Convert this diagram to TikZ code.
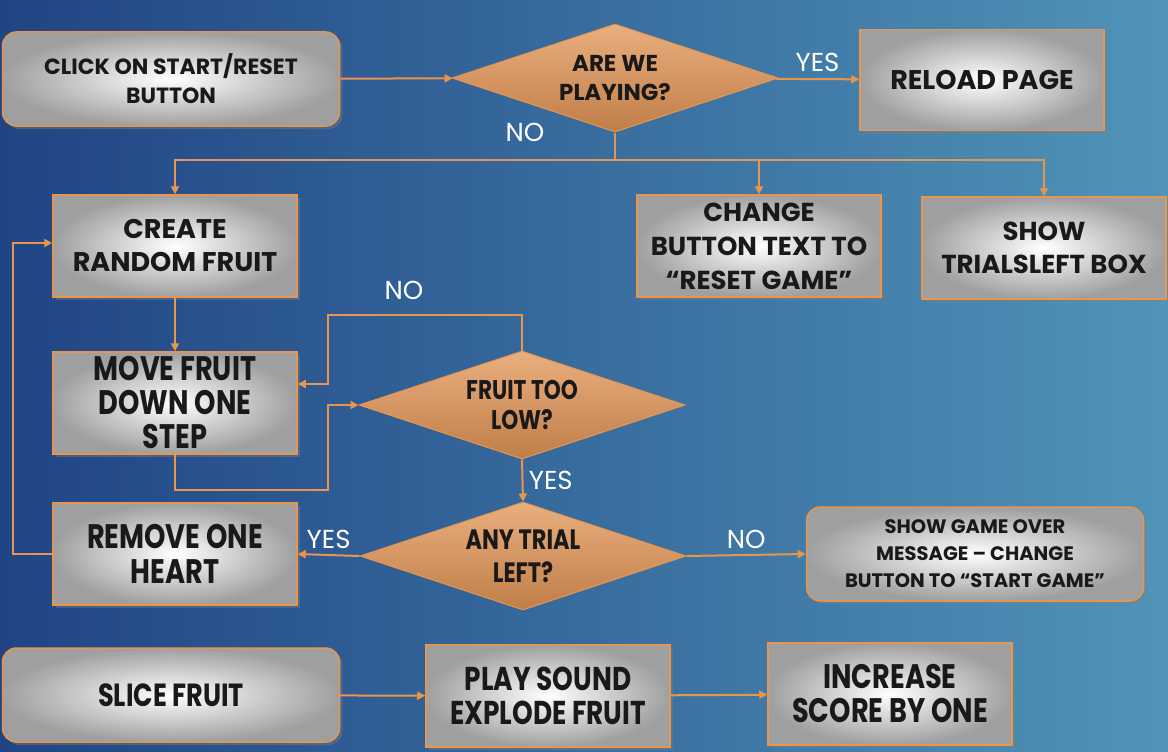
\documentclass[tikz,border=0pt]{standalone}
\usepackage{fontspec}
\setmainfont{Poppins}
\newfontfamily\condfont[FakeStretch=0.8]{Poppins}
\usetikzlibrary{arrows.meta,shapes.geometric,shadows}
\definecolor{bgdark}{RGB}{32,68,132}
\definecolor{bglight}{RGB}{80,148,184}
\definecolor{flowline}{RGB}{232,150,77}
\definecolor{diafill}{RGB}{226,148,84}
\begin{document}
\begin{tikzpicture}[x=1pt,y=-1pt,
	stepbox/.style={draw=flowline, line width=1.5pt, inner color=white, outer color=gray!75,
		minimum width=244pt, minimum height=102pt, align=center, text=black!90,
		font=\bfseries\fontsize{26}{33}\selectfont,
		drop shadow={opacity=0.4, shadow xshift=3pt, shadow yshift=-3pt}},
	endbox/.style={stepbox, rounded corners=14pt, minimum width=337pt, minimum height=94pt},
	decision/.style={diamond, draw=flowline, line width=1pt, top color=diafill!75!white,
		bottom color=diafill!85!black, minimum width=326pt, minimum height=108pt,
		inner sep=0pt, aspect=3, align=center, text=black!90},
	flow/.style={draw=flowline, line width=2pt, -{Triangle[width=8pt,length=8pt]}},
	lbl/.style={text=white, font=\fontsize{26}{26}\selectfont}]
	% Background
	\shade[left color=bgdark, right color=bglight] (0,0) rectangle (1168,752);
	\useasboundingbox (0,0) rectangle (1168,752);
	% Start and reset
	\node[endbox, font=\bfseries\fontsize{22}{29}\selectfont] (click) at (171,79) {CLICK ON START/RESET\\BUTTON};
	\node[decision, font=\bfseries\fontsize{23}{29}\selectfont] (playing) at (615,78) {ARE WE\\PLAYING?};
	\node[stepbox, minimum height=101pt, font=\bfseries\fontsize{27}{33}\selectfont] (reload) at (982,80) {RELOAD PAGE};
	\node[stepbox, font=\bfseries\fontsize{27}{33}\selectfont] (create) at (175,246) {CREATE\\RANDOM FRUIT};
	\node[stepbox, font=\bfseries\fontsize{26}{34}\selectfont] (change) at (759,246) {CHANGE\\BUTTON TEXT TO\\“RESET GAME”};
	\node[stepbox] (trials) at (1044,248) {SHOW\\TRIALSLEFT BOX};
	% Fruit loop
	\node[stepbox, font=\condfont\bfseries\fontsize{34}{34}\selectfont] (move) at (175,403) {MOVE FRUIT\\DOWN ONE\\STEP};
	\node[decision, font=\condfont\bfseries\fontsize{27}{30}\selectfont] (toolow) at (522,405) {FRUIT TOO\\LOW?};
	\node[decision, font=\condfont\bfseries\fontsize{28}{33}\selectfont] (anyleft) at (523,556) {ANY TRIAL\\LEFT?};
	\node[stepbox, font=\condfont\bfseries\fontsize{34}{35}\selectfont] (remove) at (175,554) {REMOVE ONE\\HEART};
	\node[endbox, font=\bfseries\fontsize{19.5}{27}\selectfont] (gameover) at (975,554) {SHOW GAME OVER\\MESSAGE – CHANGE\\BUTTON TO “START GAME”};
	% Slicing
	\node[endbox, font=\condfont\bfseries\fontsize{32}{34}\selectfont] (slice) at (171,695) {SLICE FRUIT};
	\node[stepbox, font=\condfont\bfseries\fontsize{33}{34}\selectfont] (sound) at (548,696) {PLAY SOUND\\EXPLODE FRUIT};
	\node[stepbox, font=\condfont\bfseries\fontsize{34}{34}\selectfont] (score) at (890,694) {INCREASE\\SCORE BY ONE};
	% Helper corners
	\coordinate (split) at (615,160);
	\coordinate (lowturn) at (328,490);
	\coordinate (highturn) at (328,315);
	% Connectors
	\draw[flow] (click) -- (playing);
	\draw[flow] (playing) -- node[lbl, above=3pt] {YES} (reload);
	\draw[draw=flowline, line width=2pt] (playing.south) -- (split);
	\node[lbl] (no1) at (525,132) {NO};
	\foreach \n in {create, change, trials}
		\draw[flow] (split) -| (\n); % branch
	\draw[flow] (create) -- (move);
	\draw[flow] (move.south) |- (lowturn) |- (toolow.west);
	\draw[flow] (toolow.north) |- (highturn) |- ([yshift=19pt]move.east);
	\node[lbl] (no2) at (404,290) {NO};
	\draw[flow] (toolow.south) -- node[lbl, right=2pt] {YES} (anyleft.north);
	\draw[flow] (anyleft.west) -- node[lbl, above=2pt] {YES} (remove.east);
	\draw[flow] (anyleft.east) -- node[lbl, above=2pt] {NO} (gameover.west);
	\draw[flow] (remove.west) -- ++(-39,0) |- ([yshift=3pt]create.west);
	\draw[flow] (slice) -- (sound);
	\draw[flow] (sound) -- (score);
\end{tikzpicture}
\end{document}
